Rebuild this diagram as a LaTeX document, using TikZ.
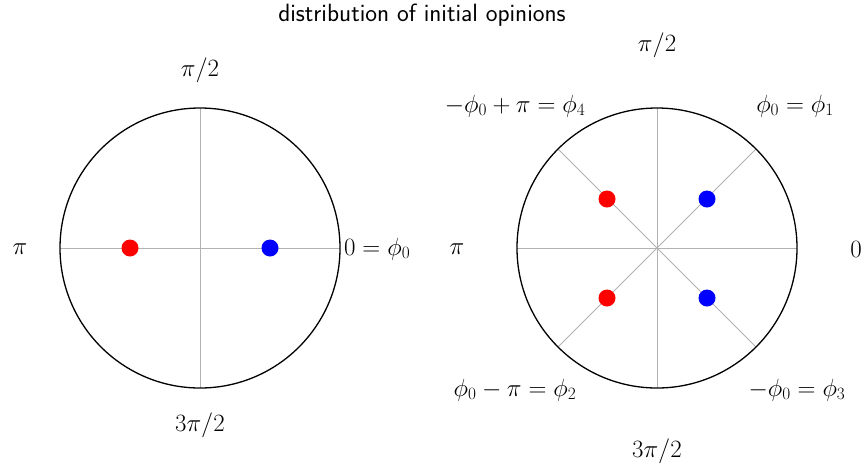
\documentclass[tikz,border=0pt]{standalone}
\usetikzlibrary{positioning}

\tikzset{
  spoke/.style={gray!60,line width=0.9pt},
  rim/.style={black,line width=1.3pt},
  lab/.style={inner sep=0pt,font=\fontsize{24}{28}\selectfont},
  opinion/.style={circle,inner sep=0pt,minimum size=17pt}
}

\begin{document}
\begin{tikzpicture}[x=1pt,y=-1pt]
\useasboundingbox (0,0) rectangle (864,467);
\node[inner sep=0pt,font=\sffamily\fontsize{25}{29}\selectfont] (title) at (422,15) {distribution of initial opinions};

% left disc
\coordinate (cl) at (200,248);
\draw[spoke] (60,248)--(340,248);
\draw[spoke] (200,108)--(200,388);
\draw[rim] (cl) circle (140);
\node[opinion,fill=red] (rl) at (130,248) {};
\node[opinion,fill=blue] (bl) at (270,248) {};
\node[lab] (lt) at (200,70) {$\pi/2$};
\node[lab] (lb) at (200,425) {$3\pi/2$};
\node[lab] (ll) at (20,249) {$\pi$};
\node[lab,anchor=west] (lr) at (344,249) {$0=\phi_0$};

% right disc
\coordinate (cr) at (657,248);
\foreach \a in {0,45,...,315}
  \draw[spoke] (cr) -- ++(\a:140);
\draw[rim] (cr) circle (140);
\node[opinion,fill=blue] (b1) at (707,199) {};
\node[opinion,fill=red] (r4) at (607,199) {};
\node[opinion,fill=red] (r2) at (607,298) {};
\node[opinion,fill=blue] (b3) at (707,298) {};
\node[lab] (rt) at (657,45) {$\pi/2$};
\node[lab] (rb) at (657,451) {$3\pi/2$};
\node[lab] (rl) at (457,249) {$\pi$};
\node[lab] (rr) at (856,249) {$0$};
\node[lab] (q1) at (795,106) {$\phi_0=\phi_1$};
\node[lab] (q4) at (515,106) {$-\phi_0+\pi=\phi_4$};
\node[lab] (q2) at (515,390) {$\phi_0-\pi=\phi_2$};
\node[lab] (q3) at (797,390) {$-\phi_0=\phi_3$};
\end{tikzpicture}
\end{document}
